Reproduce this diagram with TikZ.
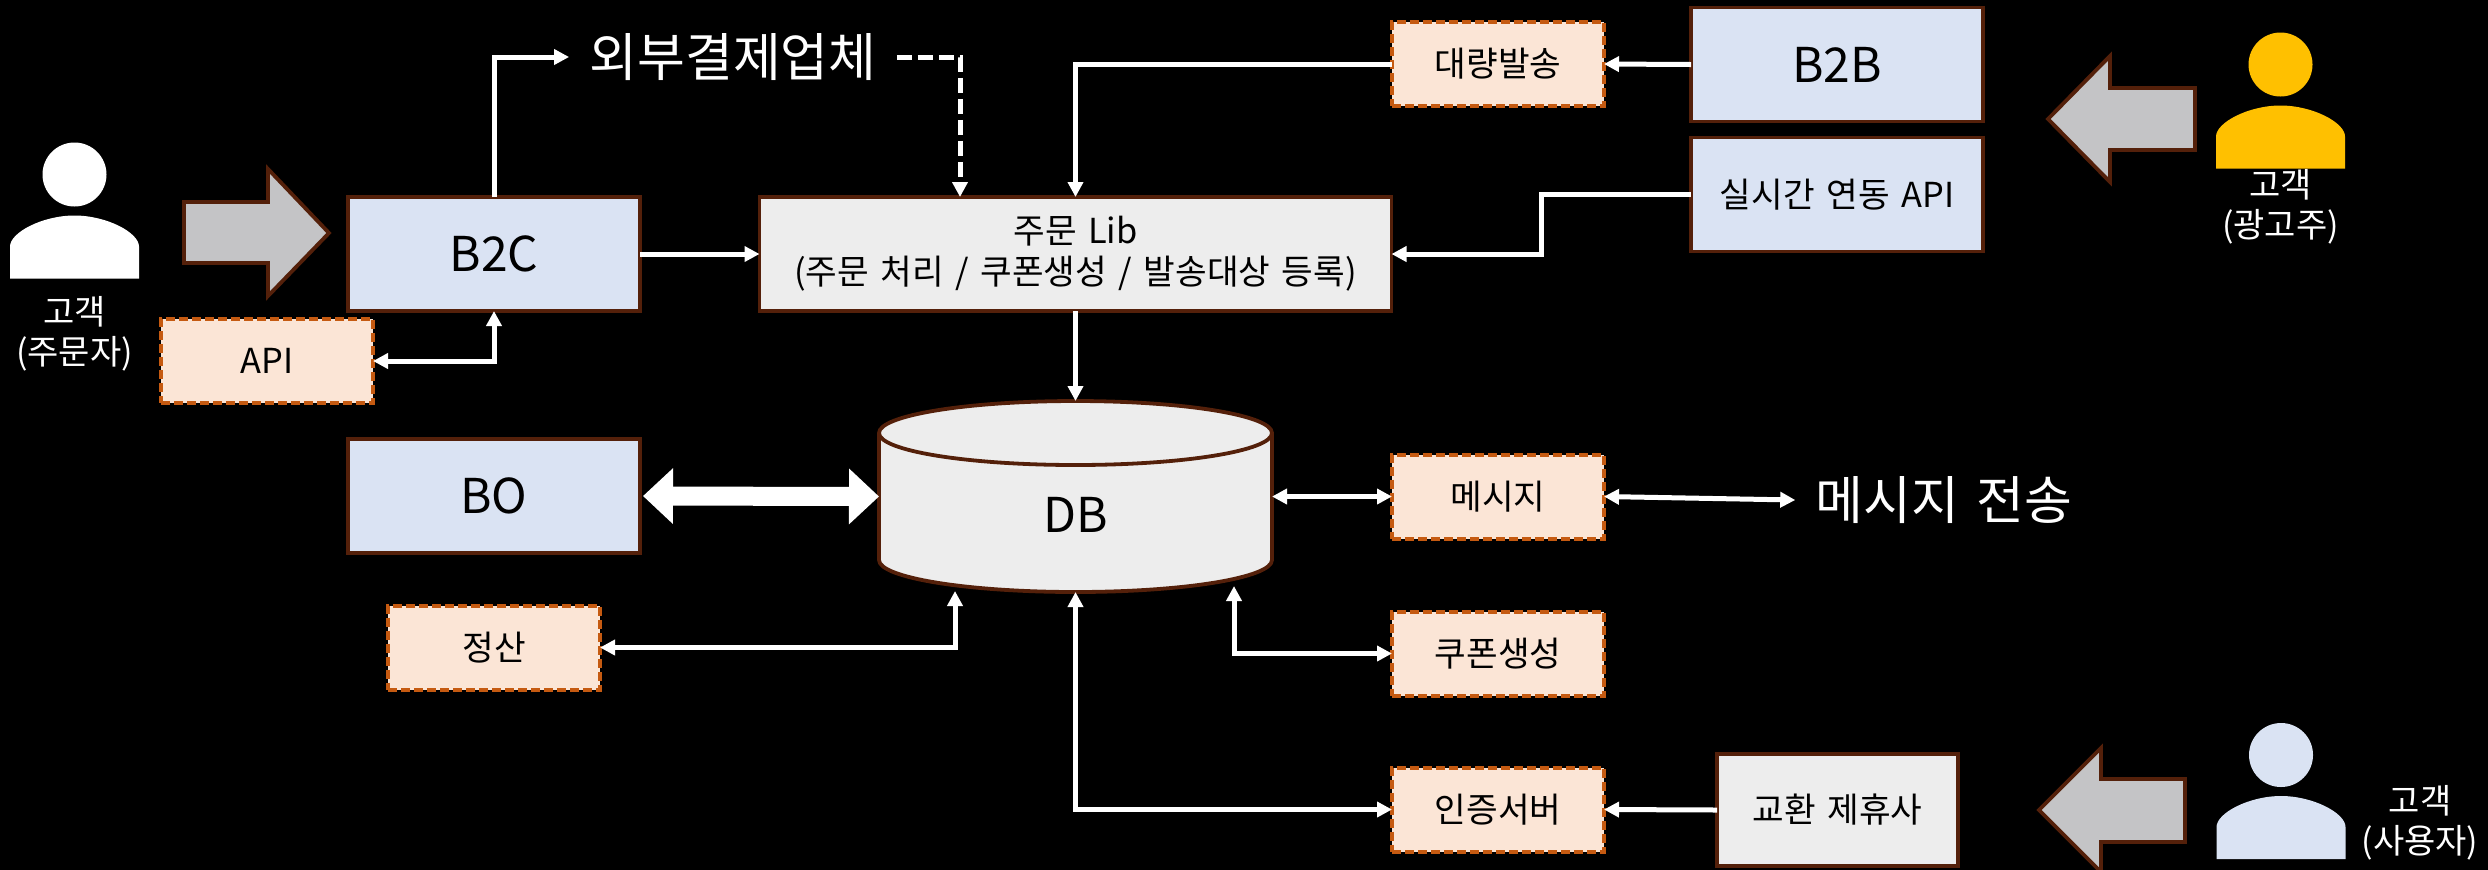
\documentclass[tikz,border=0pt]{standalone}
\usepackage{fontspec}
\setmainfont[WordSpace=1.5]{Noto Sans CJK KR}
\usetikzlibrary{arrows.meta}
\definecolor{edgebrown}{HTML}{54200A}
\definecolor{dashorange}{HTML}{C55A11}
\definecolor{boxblue}{HTML}{DAE3F3}
\definecolor{boxpeach}{HTML}{FBE5D6}
\definecolor{boxgray}{HTML}{EDEDED}
\definecolor{arrowgray}{HTML}{C4C4C6}
\definecolor{personyellow}{HTML}{FFC000}
\newcommand{\personicon}[3]{%
  \begin{scope}[shift={(#1,#2)}]
    \fill[#3] (0,0) circle (16pt);
    \fill[#3] (-64.5,104) -- (-64.5,72) .. controls (-64.5,58) and (-32,41) .. (0,41)
      .. controls (32,41) and (64.5,58) .. (64.5,72) -- (64.5,104) -- cycle;
  \end{scope}}
\tikzset{
  bigbox/.style={draw=edgebrown,line width=1.9pt,fill=boxblue,text=black,inner sep=0pt,outer sep=0pt,minimum width=146pt,minimum height=57pt,font=\fontsize{24}{28}\selectfont},
  libbox/.style={draw=edgebrown,line width=1.9pt,fill=boxgray,text=black,inner sep=0pt,outer sep=0pt,align=center,font=\fontsize{17.2}{20.5}\selectfont},
  svcbox/.style={draw=dashorange,line width=2pt,dash pattern=on 4.5pt off 2pt,fill=boxpeach,text=black,inner sep=0pt,outer sep=0pt,minimum width=106pt,minimum height=42pt,font=\fontsize{17.2}{20}\selectfont},
  caption/.style={text=white,inner sep=0pt,align=center,font=\fontsize{17}{20}\selectfont},
  bigtext/.style={text=white,inner sep=10pt,font=\fontsize{26}{30}\selectfont},
  blockarrow/.style={draw=edgebrown,line width=1.9pt,fill=arrowgray,line join=miter},
  flow/.style={draw=white,line width=2.5pt,-{Triangle[length=7.5pt,width=7.5pt]}},
  twoway/.style={draw=white,line width=2.5pt,{Triangle[length=7.5pt,width=7.5pt]}-{Triangle[length=7.5pt,width=7.5pt]}}
}
\begin{document}
\begin{tikzpicture}[x=0.5pt,y=-0.5pt]
  \useasboundingbox (0,0) rectangle (2488,869);
  \fill[black] (-6,-6) rectangle (2494,875);
  %% People
  \personicon{74.5}{174.5}{white}
  \personicon{2280.5}{64.5}{personyellow}
  \personicon{2281}{755}{boxblue}
  \node[caption] (buyer) at (74.5,334) {고객\\(주문자)};
  \node[caption] (advertiser) at (2280.5,207) {고객\\(광고주)};
  \node[caption] (user) at (2420,823) {고객\\(사용자)};
  %% Block arrows
  \draw[blockarrow] (184,202) -- (268,202) -- (268,169) -- (329,233) -- (268,296) -- (268,263) -- (184,263) -- cycle;
  \draw[blockarrow] (2195,88) -- (2110,88) -- (2110,56) -- (2048,119) -- (2110,182) -- (2110,150) -- (2195,150) -- cycle;
  \draw[blockarrow] (2185,779) -- (2101,779) -- (2101,748) -- (2039,810) -- (2101,872) -- (2101,842) -- (2185,842) -- cycle;
  %% Database
  \draw[edgebrown,line width=1.9pt,fill=boxgray] (879,433) -- (879,560) arc (180:360:196.5pt*0.5 and 16pt) -- (1272,433) arc (0:180:196.5pt*0.5 and 16pt) -- cycle;
  \draw[edgebrown,line width=1.9pt] (879,433) arc (180:360:196.5pt*0.5 and 16pt);
  \node[inner sep=0pt,outer sep=0pt,minimum width=196.5pt,minimum height=95.5pt] (db) at (1075.5,496.5) {};
  \node[text=black,inner sep=0pt,font=\fontsize{24}{28}\selectfont] (dbname) at (1075.5,515) {DB};
  %% Boxes
  \node[bigbox] (b2c) at (494,254) {B2C};
  \node[bigbox] (bo) at (494,496) {BO};
  \node[bigbox] (b2b) at (1837,64.5) {B2B};
  \node[bigbox,font=\fontsize{17.2}{20}\selectfont] (realtime) at (1837,194.5) {실시간 연동 API};
  \node[libbox,minimum width=316pt,minimum height=57pt] (lib) at (1075.5,254) {주문 Lib\\(주문 처리 / 쿠폰생성 / 발송대상 등록)};
  \node[svcbox] (api) at (267,361) {API};
  \node[svcbox] (settle) at (494,647.5) {정산};
  \node[svcbox] (bulk) at (1498,64) {대량발송};
  \node[svcbox] (msg) at (1498,496.5) {메시지};
  \node[svcbox] (coupon) at (1498,653.5) {쿠폰생성};
  \node[svcbox] (auth) at (1498,809.5) {인증서버};
  \node[libbox,minimum width=120.5pt,minimum height=56pt,font=\fontsize{17.2}{20}\selectfont] (partner) at (1837.5,810) {교환 제휴사};
  \node[bigtext] (extpay) at (733,57) {외부결제업체};
  \node[bigtext] (send) at (1944,500) {메시지 전송};
  %% Free ends
  \coordinate (libin) at (960,197);
  \coordinate (rtbend) at (1541,220);
  \coordinate (settlein) at (955,591);
  \coordinate (couponin) at (1234,586);
  %% Connectors
  \draw[flow] (b2c.north) |- (extpay.west);
  \draw[flow,dash pattern=on 7.5pt off 3pt] (extpay.east) -| (libin);
  \draw[flow] (b2c.east) -- (lib.west);
  \draw[twoway] (b2c.south) |- (api.east);
  \draw[flow] (bulk.west) -| (lib.north);
  \draw[flow] (b2b.west) -- (bulk.east);
  \draw[flow] (realtime.west) -- (rtbend |- realtime.west) -- (rtbend |- lib.east) -- (lib.east);
  \draw[flow] (lib.south) -- (db.north);
  \draw[draw=white,line width=9.5pt,shorten <=1.5pt,{Triangle[length=15pt,width=27pt]}-{Triangle[length=15pt,width=27pt]}] (bo.east) -- (db.west);
  \draw[twoway] (db.east) -- (msg.west);
  \draw[twoway] (msg.east) -- (send.west);
  \draw[twoway] (settlein) |- (settle.east);
  \draw[twoway] (couponin) |- (coupon.west);
  \draw[twoway] (db.south) |- (auth.west);
  \draw[flow] (partner.west) -- (auth.east);
\end{tikzpicture}
\end{document}
